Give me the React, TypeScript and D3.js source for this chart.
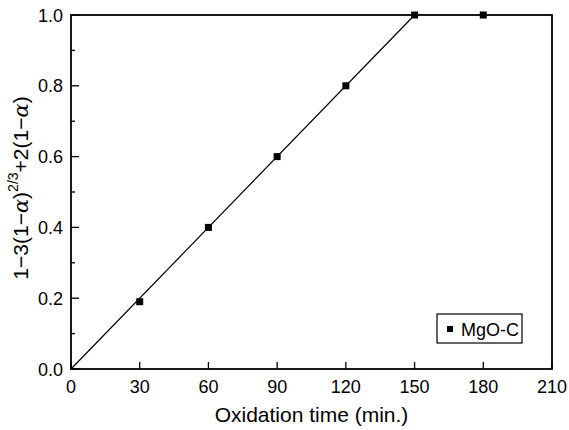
import React, { useEffect, useRef } from "react";
import * as d3 from "d3";

const times = [30, 60, 90, 120, 150, 180];
const values = [0.19, 0.4, 0.6, 0.8, 1.0, 1.0];
const fitX = [0, 150];
const fitY = [0, 1.0];
const xTicks = [0, 30, 60, 90, 120, 150, 180, 210];
const yTicks = [0, 0.2, 0.4, 0.6, 0.8, 1.0];
const yMinor = [0.1, 0.3, 0.5, 0.7, 0.9];
const seriesName = "MgO-C";

const App = () => {
  const svgRef = useRef<SVGSVGElement>(null);

  useEffect(() => {
    const W = 569;
    const H = 430;
    const margin = { top: 15, right: 17, bottom: 61, left: 71 };
    const width = W - margin.left - margin.right;
    const height = H - margin.top - margin.bottom;
    const font = "Liberation Sans, Arial, sans-serif";

    const root = d3.select(svgRef.current);
    root.selectAll("*").remove();
    const svg = root
      .append("g")
      .attr("transform", `translate(${margin.left},${margin.top})`);

    const x = d3.scaleLinear().domain([0, 210]).range([0, width]);
    const y = d3.scaleLinear().domain([0, 1]).range([height, 0]);

    // frame
    svg
      .append("rect")
      .attr("width", width)
      .attr("height", height)
      .attr("fill", "none")
      .attr("stroke", "#000")
      .attr("stroke-width", 1.8);

    // x ticks (inward)
    svg
      .selectAll(".xt")
      .data(xTicks)
      .enter()
      .append("line")
      .attr("x1", (d) => x(d))
      .attr("x2", (d) => x(d))
      .attr("y1", height)
      .attr("y2", height - 7)
      .attr("stroke", "#000")
      .attr("stroke-width", 1.3);
    svg
      .selectAll(".xl")
      .data(xTicks)
      .enter()
      .append("text")
      .attr("x", (d) => x(d))
      .attr("y", height + 24)
      .attr("text-anchor", "middle")
      .attr("font-family", font)
      .attr("font-size", 18)
      .text((d) => d);

    // y ticks
    svg
      .selectAll(".yt")
      .data(yTicks)
      .enter()
      .append("line")
      .attr("x1", 0)
      .attr("x2", 8)
      .attr("y1", (d) => y(d))
      .attr("y2", (d) => y(d))
      .attr("stroke", "#000")
      .attr("stroke-width", 1.3);
    svg
      .selectAll(".ym")
      .data(yMinor)
      .enter()
      .append("line")
      .attr("x1", 0)
      .attr("x2", 4)
      .attr("y1", (d) => y(d))
      .attr("y2", (d) => y(d))
      .attr("stroke", "#000")
      .attr("stroke-width", 1.3);
    svg
      .selectAll(".yl")
      .data(yTicks)
      .enter()
      .append("text")
      .attr("x", -8)
      .attr("y", (d) => y(d) + 6.5)
      .attr("text-anchor", "end")
      .attr("font-family", font)
      .attr("font-size", 18)
      .text((d) => d.toFixed(1));

    // fit line
    const line = d3
      .line<number>()
      .x((d) => x(d))
      .y((_, i) => y(fitY[i]));
    svg
      .append("path")
      .attr("d", line(fitX))
      .attr("fill", "none")
      .attr("stroke", "#000")
      .attr("stroke-width", 1.2);

    // points
    svg
      .selectAll(".pt")
      .data(times)
      .enter()
      .append("rect")
      .attr("x", (d) => x(d) - 3.5)
      .attr("y", (_, i) => y(values[i]) - 3.5)
      .attr("width", 7)
      .attr("height", 7)
      .attr("fill", "#000");

    // legend
    const lg = svg.append("g").attr("transform", `translate(${366},${299})`);
    lg.append("rect")
      .attr("width", 85)
      .attr("height", 29)
      .attr("fill", "#fff")
      .attr("stroke", "#000")
      .attr("stroke-width", 1.2);
    lg.append("rect")
      .attr("x", 10)
      .attr("y", 12)
      .attr("width", 6)
      .attr("height", 6)
      .attr("fill", "#000");
    lg.append("text")
      .attr("x", 24)
      .attr("y", 21.5)
      .attr("font-family", font)
      .attr("font-size", 18)
      .text(seriesName);

    // x title
    svg
      .append("text")
      .attr("x", width / 2)
      .attr("y", height + 53)
      .attr("text-anchor", "middle")
      .attr("font-family", font)
      .attr("font-size", 21)
      .text("Oxidation time (min.)");

    // y title
    const yt = svg
      .append("text")
      .attr("transform", `translate(${-43},${height / 2 - 4}) rotate(-90)`)
      .attr("text-anchor", "middle")
      .attr("font-family", font)
      .attr("font-size", 21);
    yt.append("tspan").text("1\u22123(1\u2212");
    yt.append("tspan").attr("font-family", "DejaVu Serif, serif").attr("font-style", "italic").text("\u03b1");
    yt.append("tspan").text(")");
    yt.append("tspan").attr("dy", -10).attr("font-size", 14).text("2/3");
    yt.append("tspan").attr("dy", 10).text("+2(1\u2212");
    yt.append("tspan").attr("font-family", "DejaVu Serif, serif").attr("font-style", "italic").text("\u03b1");
    yt.append("tspan").text(")");
  }, []);

  return (
    <svg
      ref={svgRef}
      width={569}
      height={430}
      style={{ position: "absolute", left: 0, top: 0, background: "#fff" }}
    />
  );
};

export default App;
